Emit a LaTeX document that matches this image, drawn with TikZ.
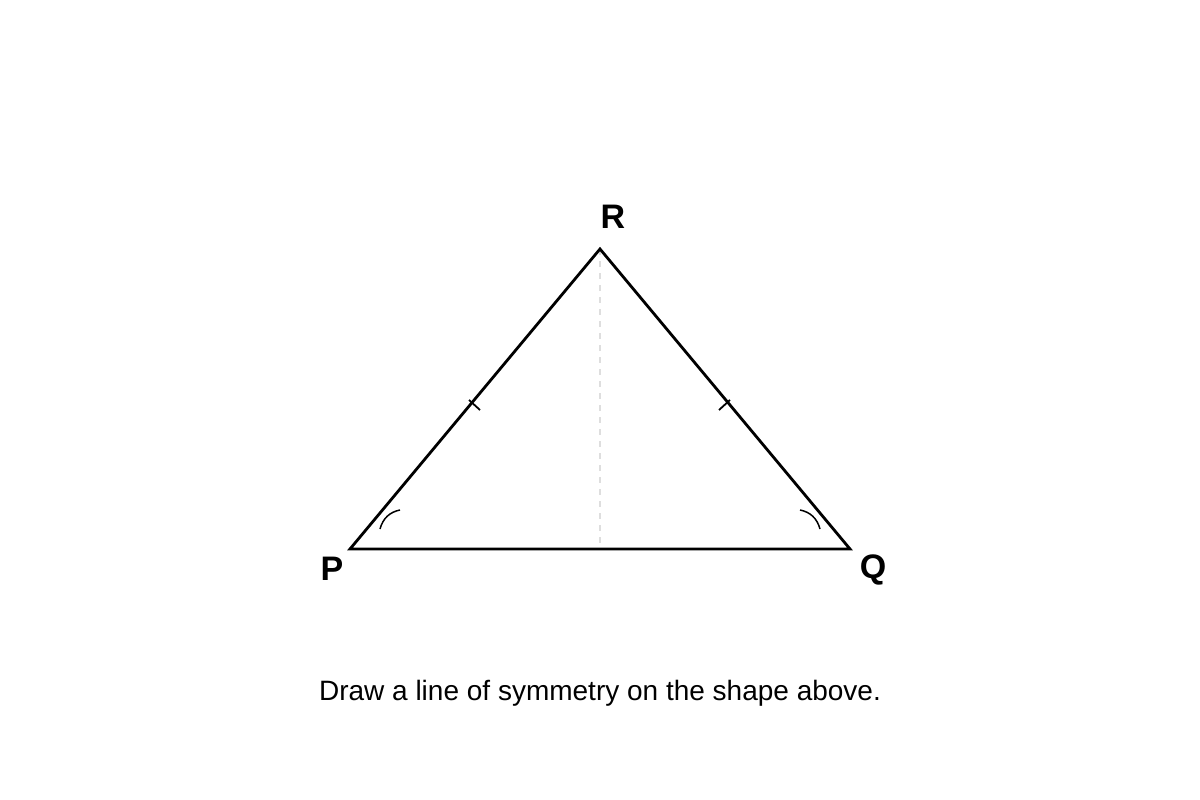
\documentclass[tikz,border=0pt]{standalone}
\usepackage{fontspec}
\setmainfont{Liberation Sans}
\usetikzlibrary{calc}
\begin{document}
\begin{tikzpicture}[x=1pt,y=-1pt,
  edge/.style={line width=2.8pt,line join=miter},
  tickmark/.style={line width=1.8pt},
  anglearc/.style={line width=1.5pt},
  symline/.style={line width=1.2pt,draw=black!13,dash pattern=on 6pt off 6pt},
  vlabel/.style={font=\fontsize{34}{38}\selectfont\bfseries,inner sep=0pt},
  caption/.style={font=\fontsize{28}{32}\selectfont,inner sep=0pt}]
\useasboundingbox (0,0) rectangle (1200,800);
\fill[white] (0,0) rectangle (1200,800);
\coordinate (P) at (350,549);
\coordinate (Q) at (850,549);
\coordinate (R) at (600,249);
\coordinate (M) at (600,549);
\draw[symline] (R) -- (M);
\draw[edge] (P) -- (Q) -- (R) -- cycle;
% tick marks
\coordinate (T1a) at (469,400);
\coordinate (T1b) at (480,410);
\coordinate (T2a) at (730,400);
\coordinate (T2b) at (719,410);
\draw[tickmark] (T1a) -- (T1b);
\draw[tickmark] (T2a) -- (T2b);
% angle arcs
\draw[anglearc] (380,529) .. controls (383,518) and (390,512) .. (400,510);
\draw[anglearc] (820,529) .. controls (817,518) and (810,512) .. (800,510);
\node[vlabel] (lR) at (613,217) {R};
\node[vlabel] (lP) at (332,569) {P};
\node[vlabel] (lQ) at (873,570) {Q};
\node[caption] (cap) at (600,693) {Draw a line of symmetry on the shape above.};
\end{tikzpicture}
\end{document}
